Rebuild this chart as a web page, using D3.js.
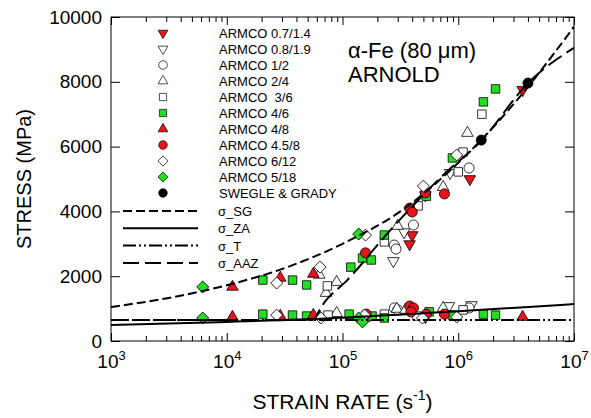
<!DOCTYPE html>
<html>
<head>
<meta charset="utf-8">
<script src="https://cdn.jsdelivr.net/npm/d3@7"></script>
<style>
  body { margin: 0; background: #fff; }
  text { font-family: Arial, "Liberation Sans", sans-serif; }
</style>
</head>
<body>
<div id="wrapper"></div>
<script>
// values: [strain rate (1/s), stress (MPa)]
const armco07_14 = [[4.0e5, 3270], [3.8e5, 2990], [5.2e5, 4500], [1.26e6, 5000], [3.6e6, 7750], [5.2e5, 740]]
const armco08_19 = [[2.75e5, 2470], [3.4e5, 3360], [8.5e5, 5190], [8.3e5, 1080], [1.3e6, 1110]]
const armco1_2 = [[2.8e5, 2960], [2.9e5, 2840], [4.1e5, 3580], [1.24e6, 5340], [2.8e5, 1020], [3.0e5, 960], [1.24e6, 1020]]
const armco2_4 = [[6.3e4, 2040], [7.2e4, 1480], [8.9e4, 1820], [3.0e5, 3550], [7.4e5, 4750], [1.2e6, 6420],
  [6.3e4, 770], [8.9e4, 860], [2.95e5, 990], [3.5e5, 960], [7.4e5, 1020]]
const armco3_6 = [[7.4e4, 1700], [2.3e5, 3060], [4.5e5, 4170], [1.0e6, 5220], [1.1e6, 5830], [1.6e6, 7000],
  [7.5e4, 800], [1.6e5, 740], [2.3e5, 830], [4.4e5, 770], [1.1e6, 960]]
const armco4_6 = [[2.05e4, 1880], [3.7e4, 1880], [4.9e4, 1730], [1.18e5, 2280], [1.49e5, 2560], [1.77e5, 2500],
  [2.3e5, 3270], [5.3e5, 4470], [8.9e5, 5650], [1.65e6, 7380], [2.1e6, 7780],
  [2.05e4, 830], [3.7e4, 800], [4.9e4, 770], [1.14e5, 830], [1.8e5, 770], [2.3e5, 710],
  [5.6e5, 900], [8.9e5, 800], [1.65e6, 830], [2.1e6, 800]]
const armco4_8 = [[1.12e4, 1670], [2.9e4, 1950], [5.6e4, 2070], [1.12e4, 740], [2.9e4, 770], [5.6e4, 800], [3.6e6, 740]]
const armco45_8 = [[1.58e5, 2720], [3.8e5, 4100], [4.0e5, 3980], [5.2e5, 4570], [7.6e5, 4540],
  [1.6e5, 830], [3.8e5, 1080], [4.1e5, 1020], [3.9e5, 900], [5.3e5, 830], [7.6e5, 830]]
const armco6_12 = [[2.7e4, 1790], [6.4e4, 2280], [1.58e5, 3270], [5.0e5, 4780], [9.7e5, 5740],
  [2.7e4, 800], [6.5e4, 710], [1.55e5, 800], [4.9e5, 710], [9.7e5, 740]]
const armco5_18 = [[6.2e3, 1670], [1.38e5, 3300], [6.2e3, 710], [1.38e5, 710], [1.49e5, 590]]
const swegleGrady = [[1.58e6, 6200], [4.0e6, 7960]]

const seriesNames = ["ARMCO 0.7/1.4", "ARMCO 0.8/1.9", "ARMCO 1/2", "ARMCO 2/4", "ARMCO  3/6",
  "ARMCO 4/6", "ARMCO 4/8", "ARMCO 4.5/8", "ARMCO 6/12", "ARMCO 5/18", "SWEGLE & GRADY"]

// model curves
const sigmaSG = [[1e3, 1050], [3.16e3, 1330], [1e4, 1720], [3.16e4, 2250], [1e5, 3000],
  [3.16e5, 4000], [1e6, 5500], [3.16e6, 7400], [1e7, 9700]]
const sigmaZA = [[1e3, 490], [1e4, 590], [1e5, 720], [1e6, 920], [1e7, 1140]]
const sigmaT = [[1e3, 650], [1e7, 650]]
const sigmaAAZ = [[1e3, 650], [5.5e4, 650], [7e4, 1200], [1.1e5, 1880], [2.5e5, 3360],
  [7.4e5, 5120], [1.6e6, 6200], [4e6, 7960], [1e7, 9050]]
const curveNames = ["σ_SG", "σ_ZA", "σ_T", "σ_AAZ"]

const xTicks = [1e3, 1e4, 1e5, 1e6, 1e7]
const yTicks = [0, 2000, 4000, 6000, 8000, 10000]

function drawChart() {
  // 1. dimensions
  let dimensions = {
    width: 591,
    height: 418,
    margin: { top: 17, right: 17, bottom: 77, left: 111 },
  }
  dimensions.boundedWidth = dimensions.width - dimensions.margin.left - dimensions.margin.right
  dimensions.boundedHeight = dimensions.height - dimensions.margin.top - dimensions.margin.bottom

  const wrapper = d3.select("#wrapper")
    .append("svg")
      .attr("width", dimensions.width)
      .attr("height", dimensions.height)

  const bounds = wrapper.append("g")
      .attr("transform", `translate(${dimensions.margin.left},${dimensions.margin.top})`)

  // 2. scales
  const xScale = d3.scaleLog()
    .domain([1e3, 1e7])
    .range([0, dimensions.boundedWidth])
  const yScale = d3.scaleLinear()
    .domain([0, 10000])
    .range([dimensions.boundedHeight, 0])

  const minorTicks = xScale.ticks().filter(d => !xTicks.includes(d))

  // 3. axes, ticks pointing inward
  const bottomAxis = bounds.append("g")
      .attr("transform", `translate(0,${dimensions.boundedHeight})`)
      .call(d3.axisBottom(xScale).tickValues(xTicks).tickSize(-8).tickSizeOuter(0).tickPadding(14))
  bounds.append("g")
      .attr("transform", `translate(0,${dimensions.boundedHeight})`)
      .call(d3.axisBottom(xScale).tickValues(minorTicks).tickSize(-5).tickSizeOuter(0).tickFormat(""))
  bounds.append("g")
      .call(d3.axisTop(xScale).tickValues(xTicks).tickSize(-8).tickSizeOuter(0).tickFormat(""))
  bounds.append("g")
      .call(d3.axisTop(xScale).tickValues(minorTicks).tickSize(-5).tickSizeOuter(0).tickFormat(""))
  const leftAxis = bounds.append("g")
      .call(d3.axisLeft(yScale).tickValues(yTicks).tickSize(-9).tickSizeOuter(0).tickPadding(9)
        .tickFormat(d3.format("d")))
  bounds.append("g")
      .attr("transform", `translate(${dimensions.boundedWidth},0)`)
      .call(d3.axisRight(yScale).tickValues(yTicks).tickSize(-9).tickSizeOuter(0).tickFormat(""))

  bounds.selectAll(".domain").remove()
  bounds.selectAll(".tick line").attr("stroke", "#000")

  leftAxis.selectAll(".tick text")
      .attr("font-size", 19)
      .attr("font-family", "Arial, 'Liberation Sans', sans-serif")
      .attr("fill", "#000")

  bottomAxis.selectAll(".tick text")
      .attr("font-size", 19)
      .attr("font-family", "Arial, 'Liberation Sans', sans-serif")
      .attr("fill", "#000")
      .text(null)
      .each(function(d) {
        const t = d3.select(this)
        t.append("tspan").text("10")
        t.append("tspan").attr("dy", -8).attr("font-size", 13).text(Math.round(Math.log10(d)))
      })

  // 4. markers
  const sq = d3.symbol().type(d3.symbolSquare).size(72)()
  const tri = d3.symbol().type(d3.symbolTriangle).size(58)()
  const circ = d3.symbol().type(d3.symbolCircle).size(80)()
  const shapes = [
    { data: armco07_14, path: tri, rot: 180, fill: "#e8141c" },
    { data: armco08_19, path: tri, rot: 180, fill: "#fff" },
    { data: armco1_2, path: circ, rot: 0, fill: "#fff" },
    { data: armco2_4, path: tri, rot: 0, fill: "#fff" },
    { data: armco3_6, path: sq, rot: 0, fill: "#fff" },
    { data: armco4_6, path: sq, rot: 0, fill: "#22dd22" },
    { data: armco4_8, path: tri, rot: 0, fill: "#e8141c" },
    { data: armco45_8, path: circ, rot: 0, fill: "#e8141c" },
    { data: armco6_12, path: sq, rot: 45, fill: "#fff" },
    { data: armco5_18, path: sq, rot: 45, fill: "#22dd22" },
    { data: swegleGrady, path: circ, rot: 0, fill: "#000" },
  ]

  shapes.forEach(s => {
    bounds.append("g").selectAll("path")
      .data(s.data)
      .join("path")
        .attr("d", s.path)
        .attr("transform", d => `translate(${xScale(d[0])},${yScale(d[1])}) rotate(${s.rot})`)
        .attr("fill", s.fill)
        .attr("stroke", "#000")
        .attr("stroke-width", 0.8)
  })

  // 5. model lines
  bounds.append("clipPath").attr("id", "clip")
    .append("rect")
      .attr("width", dimensions.boundedWidth)
      .attr("height", dimensions.boundedHeight)

  const lineGenerator = d3.line()
    .x(d => xScale(d[0]))
    .y(d => yScale(d[1]))
    .curve(d3.curveMonotoneX)

  const curves = [
    { data: sigmaSG, dash: "9,4" },
    { data: sigmaZA, dash: null },
    { data: sigmaT, dash: "13,3,2,3,2,3" },
    { data: sigmaAAZ, dash: "16,6" },
  ]
  curves.forEach(c => {
    bounds.append("path")
        .attr("clip-path", "url(#clip)")
        .attr("d", lineGenerator(c.data))
        .attr("fill", "none")
        .attr("stroke", "#000")
        .attr("stroke-width", 2)
        .attr("stroke-dasharray", c.dash)
  })

  // frame
  bounds.append("rect")
      .attr("width", dimensions.boundedWidth)
      .attr("height", dimensions.boundedHeight)
      .attr("fill", "none")
      .attr("stroke", "#000")
      .attr("stroke-width", 1)

  // 6. legend
  const legend = wrapper.append("g")
  const legendSymbolScale = 0.85
  shapes.forEach((s, i) => {
    const y = 33 + i * 16
    legend.append("path")
        .attr("d", s.path)
        .attr("transform", `translate(163,${y}) rotate(${s.rot}) scale(${legendSymbolScale})`)
        .attr("fill", s.fill)
        .attr("stroke", "#000")
        .attr("stroke-width", 0.8)
    legend.append("text")
        .attr("x", 219)
        .attr("y", y + 4.5)
        .attr("font-size", 13)
        .style("white-space", "pre")
        .text(seriesNames[i])
  })
  curves.forEach((c, i) => {
    const y = 211 + i * 17.3
    legend.append("line")
        .attr("x1", 123).attr("x2", 198)
        .attr("y1", y).attr("y2", y)
        .attr("stroke", "#000")
        .attr("stroke-width", 2)
        .attr("stroke-dasharray", c.dash)
    legend.append("text")
        .attr("x", 218)
        .attr("y", y + 5)
        .attr("font-size", 13)
        .text(curveNames[i])
  })

  // 7. annotation and axis titles
  wrapper.append("text")
      .attr("x", 348).attr("y", 58)
      .attr("font-size", 22)
      .text("α-Fe (80 μm)")
  wrapper.append("text")
      .attr("x", 348).attr("y", 82)
      .attr("font-size", 22)
      .text("ARNOLD")

  const xTitle = wrapper.append("text")
      .attr("x", dimensions.margin.left + dimensions.boundedWidth / 2)
      .attr("y", 409)
      .attr("text-anchor", "middle")
      .attr("font-size", 21)
  xTitle.append("tspan").text("STRAIN RATE (s")
  xTitle.append("tspan").attr("dy", -9).attr("font-size", 14).text("-1")
  xTitle.append("tspan").attr("dy", 9).text(")")

  wrapper.append("text")
      .attr("transform", `translate(31,${dimensions.margin.top + dimensions.boundedHeight / 2}) rotate(-90)`)
      .attr("text-anchor", "middle")
      .attr("font-size", 20)
      .text("STRESS (MPa)")
}

drawChart()
</script>
</body>
</html>
